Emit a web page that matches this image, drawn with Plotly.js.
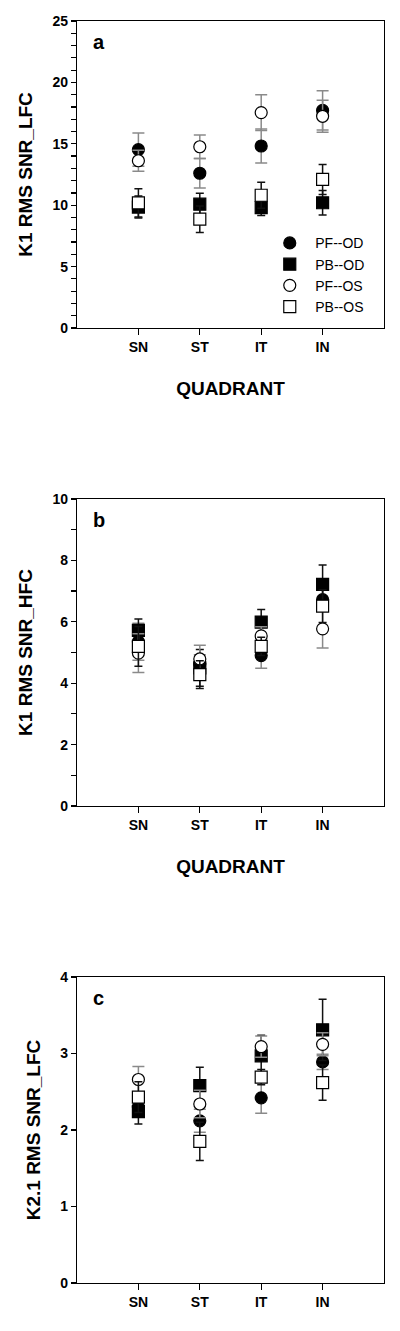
<!DOCTYPE html>
<html>
<head>
<meta charset="utf-8">
<script src="https://cdn.plot.ly/plotly-3.0.1.min.js"></script>
<style>
  html, body { margin: 0; padding: 0; background: #fff; }
  #chart { width: 400px; height: 1331px; }
</style>
</head>
<body>
<div id="chart"></div>
<script>
var quadrants = ["SN", "ST", "IT", "IN"];
var seriesNames = ["PF--OD", "PB--OD", "PF--OS", "PB--OS"];

// panel a: K1 RMS SNR_LFC
var k1LfcPfOd = [14.52, 12.6, 14.82, 17.72];
var k1LfcPfOdErr = [1.35, 1.2, 1.38, 1.6];
var k1LfcPbOd = [9.85, 10.08, 9.81, 10.2];
var k1LfcPbOdErr = [0.9, 0.9, 0.65, 1.0];
var k1LfcPfOs = [13.62, 14.76, 17.54, 17.24];
var k1LfcPfOsErr = [0.85, 0.95, 1.46, 1.3];
var k1LfcPbOs = [10.19, 8.86, 10.81, 12.1];
var k1LfcPbOsErr = [1.15, 1.08, 1.05, 1.22];

// panel b: K1 RMS SNR_HFC
var k1HfcPfOd = [5.35, 4.63, 4.9, 6.72];
var k1HfcPfOdErr = [0.6, 0.3, 0.41, 0.35];
var k1HfcPbOd = [5.72, 4.5, 5.99, 7.22];
var k1HfcPbOdErr = [0.37, 0.6, 0.41, 0.63];
var k1HfcPfOs = [4.98, 4.79, 5.54, 5.77];
var k1HfcPfOsErr = [0.63, 0.45, 0.3, 0.62];
var k1HfcPbOs = [5.2, 4.28, 5.2, 6.51];
var k1HfcPbOsErr = [0.65, 0.45, 0.3, 0.53];

// panel c: K2.1 RMS SNR_LFC
var k21LfcPfOd = [2.30, 2.12, 2.42, 2.89];
var k21LfcPfOdErr = [0.1, 0.15, 0.2, 0.1];
var k21LfcPbOd = [2.24, 2.58, 2.97, 3.31];
var k21LfcPbOdErr = [0.16, 0.24, 0.27, 0.40];
var k21LfcPfOs = [2.66, 2.34, 3.09, 3.12];
var k21LfcPfOsErr = [0.17, 0.18, 0.14, 0.15];
var k21LfcPbOs = [2.43, 1.85, 2.69, 2.62];
var k21LfcPbOsErr = [0.2, 0.25, 0.1, 0.23];

var fontFam = "'Liberation Sans', Arial, sans-serif";
var lw = 1.2;

// marker style per series, same order as seriesNames
var styles = [
	{symbol: "circle", fill: "#000000", err: "#8a8a8a", errw: 6},
	{symbol: "square", fill: "#000000", err: "#111111", errw: 4},
	{symbol: "circle", fill: "#ffffff", err: "#8a8a8a", errw: 6},
	{symbol: "square", fill: "#ffffff", err: "#111111", errw: 4}
];

function makeTrace(k, y, err, axisNum, legend) {
	var s = styles[k];
	return {
		type: "scatter",
		mode: "markers",
		x: quadrants,
		y: y,
		name: seriesNames[k],
		legendgroup: seriesNames[k],
		showlegend: legend,
		xaxis: axisNum == 1 ? "x" : "x" + axisNum,
		yaxis: axisNum == 1 ? "y" : "y" + axisNum,
		marker: {
			symbol: s.symbol,
			size: 12,
			color: s.fill,
			line: {color: "#000000", width: lw}
		},
		error_y: {
			type: "data",
			array: err,
			visible: true,
			color: s.err,
			thickness: 1.5,
			width: s.errw
		},
		cliponaxis: false
	};
}

var data = [
	makeTrace(0, k1LfcPfOd, k1LfcPfOdErr, 1, true),
	makeTrace(1, k1LfcPbOd, k1LfcPbOdErr, 1, true),
	makeTrace(2, k1LfcPfOs, k1LfcPfOsErr, 1, true),
	makeTrace(3, k1LfcPbOs, k1LfcPbOsErr, 1, true),
	makeTrace(0, k1HfcPfOd, k1HfcPfOdErr, 2, false),
	makeTrace(1, k1HfcPbOd, k1HfcPbOdErr, 2, false),
	makeTrace(2, k1HfcPfOs, k1HfcPfOsErr, 2, false),
	makeTrace(3, k1HfcPbOs, k1HfcPbOsErr, 2, false),
	makeTrace(0, k21LfcPfOd, k21LfcPfOdErr, 3, false),
	makeTrace(1, k21LfcPbOd, k21LfcPbOdErr, 3, false),
	makeTrace(2, k21LfcPfOs, k21LfcPfOsErr, 3, false),
	makeTrace(3, k21LfcPbOs, k21LfcPbOsErr, 3, false)
];

var tickFont = {family: fontFam, size: 14, color: "#000", weight: "bold"};
var titleFont = {family: fontFam, size: 19, color: "#000", weight: "bold"};

function xAx(anchor, title) {
	var ax = {
		anchor: anchor,
		domain: [0, 1],
		type: "category",
		categoryarray: quadrants,
		range: [-1, 4],
		ticks: "outside",
		ticklen: 6,
		tickwidth: lw,
		tickcolor: "#000",
		showline: true,
		mirror: true,
		linecolor: "#000",
		linewidth: lw,
		showgrid: false,
		zeroline: false,
		tickfont: tickFont,
		fixedrange: true
	};
	if (title) ax.title = {text: title, font: titleFont, standoff: 27};
	return ax;
}

function yAx(anchor, domain, top, step, minorStep, title) {
	var ax = {
		anchor: anchor,
		domain: domain,
		range: [0, top],
		tick0: 0,
		dtick: step,
		ticks: "outside",
		ticklen: 5,
		tickwidth: lw,
		tickcolor: "#000",
		showline: true,
		mirror: true,
		linecolor: "#000",
		linewidth: lw,
		showgrid: false,
		zeroline: false,
		tickfont: tickFont,
		title: {text: title, font: titleFont, standoff: 14},
		fixedrange: true
	};
	if (minorStep) {
		ax.minor = {dtick: minorStep, tick0: 0, ticks: "outside", ticklen: 5, tickwidth: lw, tickcolor: "#000", showgrid: false};
	}
	return ax;
}

// inside ticks on the right frame
function yRight(over, anchor, top, step) {
	return {
		overlaying: over,
		anchor: anchor,
		side: "right",
		range: [0, top],
		tick0: 0,
		dtick: step,
		ticks: "inside",
		ticklen: 5,
		tickwidth: lw,
		tickcolor: "#000",
		showticklabels: false,
		showline: false,
		showgrid: false,
		zeroline: false,
		fixedrange: true
	};
}

var domA = [0.75674, 1.0];
var domB = [0.37797, 0.62124];
var domC = [0.0, 0.24247];

var panelLabel = function (txt, xr, yr) {
	return {
		text: txt,
		xref: xr + " domain",
		yref: yr + " domain",
		x: 0.045,
		y: 0.93,
		xanchor: "left",
		yanchor: "middle",
		showarrow: false,
		font: {family: fontFam, size: 20, color: "#000", weight: "bold"}
	};
};

var layout = {
	width: 400,
	height: 1331,
	margin: {l: 77, r: 16, t: 21, b: 48, autoexpand: false},
	paper_bgcolor: "#fff",
	plot_bgcolor: "#fff",
	font: {family: fontFam, color: "#000"},
	showlegend: true,
	legend: {
		x: 0.61,
		y: 0.8365,
		xanchor: "left",
		yanchor: "top",
		bgcolor: "rgba(0,0,0,0)",
		borderwidth: 0,
		itemwidth: 41,
		font: {family: fontFam, size: 14, color: "#000"},
		tracegroupgap: 0
	},
	xaxis: xAx("y", "QUADRANT"),
	xaxis2: xAx("y2", "QUADRANT"),
	xaxis3: xAx("y3", null),
	yaxis: yAx("x", domA, 25, 5, 1, "K1 RMS SNR_LFC"),
	yaxis2: yAx("x2", domB, 10, 2, 1, "K1 RMS SNR_HFC"),
	yaxis3: yAx("x3", domC, 4, 1, null, "K2.1 RMS SNR_LFC"),
	yaxis4: yRight("y", "x", 25, 1),
	yaxis5: yRight("y2", "x2", 10, 1),
	yaxis6: yRight("y3", "x3", 4, 1),
	annotations: [
		panelLabel("a", "x", "y"),
		panelLabel("b", "x2", "y2"),
		panelLabel("c", "x3", "y3")
	]
};

Plotly.newPlot("chart", data, layout, {displayModeBar: false, staticPlot: true});
</script>
</body>
</html>
